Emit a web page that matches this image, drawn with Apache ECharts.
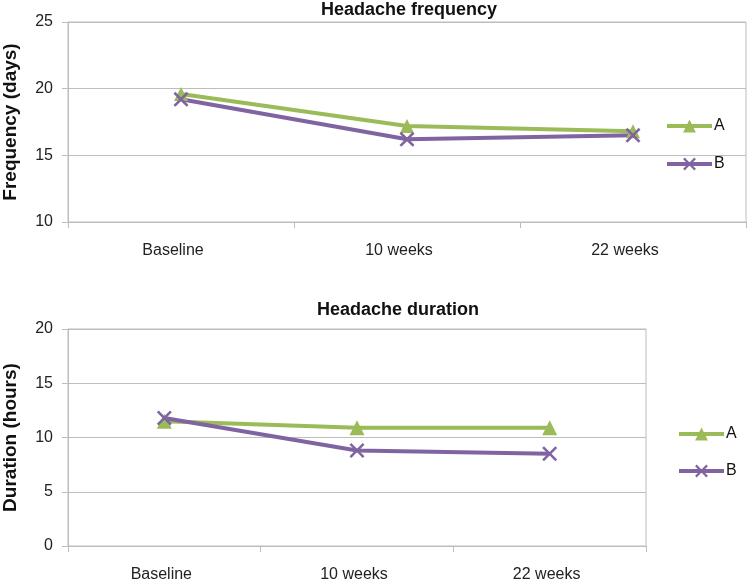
<!DOCTYPE html>
<html><head><meta charset="utf-8">
<script src="https://cdn.jsdelivr.net/npm/echarts@6/dist/echarts.min.js"></script>
<style>html,body{margin:0;padding:0;background:#fff}#c{width:749px;height:580px}</style>
</head><body><div id="c"></div>
<script>
const categories = ['Baseline', '10 weeks', '22 weeks'];
const freqA = [19.6, 17.2, 16.8];
const freqB = [19.2, 16.2, 16.5];
const durA = [11.5, 10.9, 10.9];
const durB = [11.8, 8.8, 8.5];
const freqTicks = [10, 15, 20, 25];
const durTicks = [0, 5, 10, 15, 20];

const green = '#9bbb59', purple = '#8064a2', gridC = '#bdbdbd';
const font = 'Liberation Sans, Arial, sans-serif';
const xSym = 'path://M0,1.2L1.2,0L5,3.8L8.8,0L10,1.2L6.2,5L10,8.8L8.8,10L5,6.2L1.2,10L0,8.8L3.8,5Z';

const chart = echarts.init(document.getElementById('c'));
function xAxis(i,padR){return {type:'category',gridIndex:i,data:categories,boundaryGap:true,
  axisLine:{lineStyle:{color:gridC}},axisTick:{show:true,length:6,lineStyle:{color:gridC}},
  axisLabel:{color:'#222',fontSize:16,fontFamily:font,margin:21,padding:[0,padR,0,0]}};}
function yAxis(i,min,max,name,gap){return {type:'value',gridIndex:i,min:min,max:max,interval:5,
  name:name,nameLocation:'middle',nameGap:gap,nameTextStyle:{fontSize:19,fontWeight:'bold',color:'#111',fontFamily:font},
  axisLine:{show:true,lineStyle:{color:gridC}},axisTick:{show:true,length:6,lineStyle:{color:gridC}},
  splitLine:{lineStyle:{color:gridC}},axisLabel:{color:'#222',fontSize:16,fontFamily:font,margin:15}};}
function line(name,data,i,color,sym,size){return {type:'line',name:name,data:data,xAxisIndex:i,yAxisIndex:i,
  symbol:sym,symbolSize:size,showSymbol:true,lineStyle:{color:color,width:4},itemStyle:{color:color},
  emphasis:{disabled:true},animation:false};}
function legend(left,top,gap){return {orient:'vertical',left:left,top:top,itemWidth:45,itemHeight:16,itemGap:gap,data:['A','B'],
  lineStyle:{width:4},textStyle:{fontSize:16,color:'#111',fontFamily:font,padding:[0,0,0,-3]},selectedMode:false};}
chart.setOption({
  animation:false,
  title:[
    {text:'Headache frequency',left:404,top:-4,textAlign:'center',textStyle:{fontSize:18,fontWeight:'bold',color:'#111',fontFamily:font}},
    {text:'Headache duration',left:393,top:296,textAlign:'center',textStyle:{fontSize:18,fontWeight:'bold',color:'#111',fontFamily:font}}
  ],
  grid:[
    {left:68,top:22,width:678,height:200,show:true,borderColor:gridC,borderWidth:1,outerBoundsMode:'none',containLabel:false},
    {left:68,top:329,width:578,height:217,show:true,borderColor:gridC,borderWidth:1,outerBoundsMode:'none',containLabel:false}
  ],
  xAxis:[xAxis(0,16),xAxis(1,6)],
  yAxis:[yAxis(0,freqTicks[0],freqTicks[freqTicks.length-1],'Frequency (days)',48),
         yAxis(1,durTicks[0],durTicks[durTicks.length-1],'Duration (hours)',48)],
  legend:[legend(660,113,22),legend(672,421,21)],
  series:[
    line('A',freqA,0,green,'triangle',14),
    line('B',freqB,0,purple,xSym,15),
    line('A',durA,1,green,'triangle',15),
    line('B',durB,1,purple,xSym,15)
  ]
});
</script></body></html>
